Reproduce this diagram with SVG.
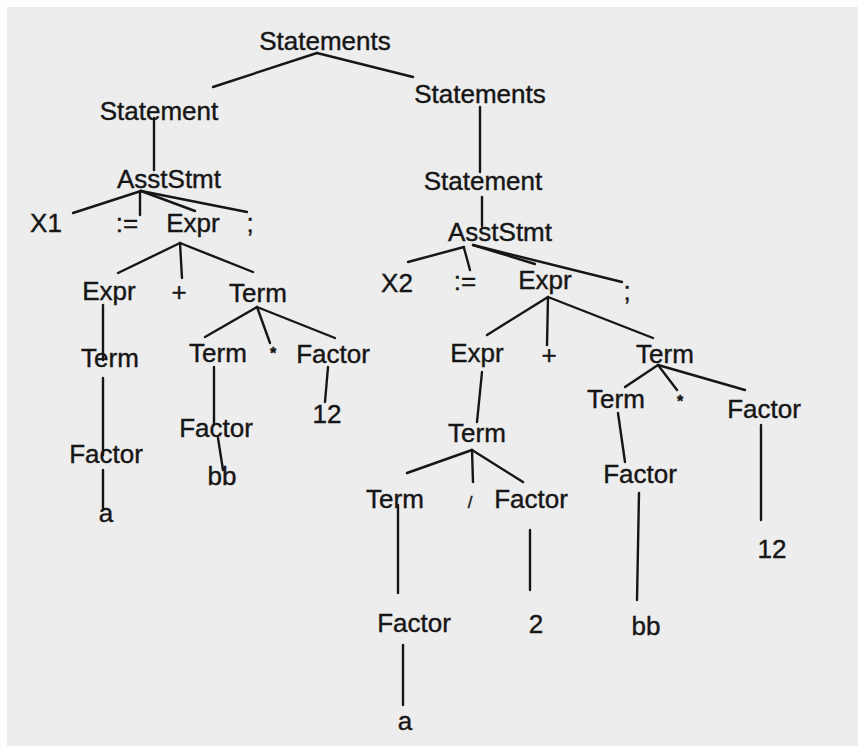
<svg xmlns="http://www.w3.org/2000/svg" width="858" height="746" viewBox="0 0 858 746">
<style>
  text { font-family: "Liberation Sans", Arial, Helvetica, sans-serif; font-size: 26px; fill: #161616; stroke: #161616; stroke-width: 0.4; text-anchor: middle; }
  text.sm { font-size: 16px; font-weight: bold; }
  text.sl { font-size: 17px; }
  #connectors line { stroke: #161616; stroke-width: 2.4; stroke-linecap: round; }
</style>
<rect x="0" y="0" width="858" height="746" fill="#ffffff"/>
<rect x="7" y="7" width="851" height="739" fill="#ededed"/>
<g id="connectors">
  <line x1="317" y1="53" x2="213" y2="87"/>
  <line x1="317" y1="53" x2="413" y2="77"/>
  <line x1="154" y1="118" x2="154" y2="170"/>
  <line x1="480" y1="107" x2="480" y2="172"/>
  <line x1="482" y1="197" x2="482" y2="226"/>
  <line x1="141" y1="191" x2="73" y2="213"/>
  <line x1="140" y1="191" x2="140" y2="215"/>
  <line x1="141" y1="191" x2="195" y2="211"/>
  <line x1="141" y1="191" x2="247" y2="212"/>
  <line x1="464" y1="247" x2="408" y2="262"/>
  <line x1="464" y1="248" x2="470" y2="270"/>
  <line x1="473" y1="245" x2="535" y2="264"/>
  <line x1="473" y1="245" x2="622" y2="282"/>
  <line x1="180" y1="243" x2="118" y2="273"/>
  <line x1="180" y1="243" x2="182" y2="278"/>
  <line x1="180" y1="243" x2="253" y2="272"/>
  <line x1="103" y1="305" x2="103" y2="360"/>
  <line x1="257" y1="307" x2="205" y2="337"/>
  <line x1="257" y1="307" x2="270" y2="343"/>
  <line x1="257" y1="307" x2="335" y2="338"/>
  <line x1="103" y1="378" x2="103" y2="455"/>
  <line x1="103" y1="470" x2="103" y2="508"/>
  <line x1="214" y1="367" x2="214" y2="425"/>
  <line x1="218" y1="438" x2="223" y2="470"/>
  <line x1="328" y1="367" x2="325" y2="402"/>
  <line x1="548" y1="297" x2="487" y2="335"/>
  <line x1="548" y1="297" x2="547" y2="345"/>
  <line x1="548" y1="297" x2="653" y2="338"/>
  <line x1="482" y1="372" x2="477" y2="422"/>
  <line x1="658" y1="365" x2="625" y2="387"/>
  <line x1="658" y1="365" x2="677" y2="390"/>
  <line x1="658" y1="365" x2="745" y2="390"/>
  <line x1="618" y1="413" x2="625" y2="462"/>
  <line x1="639" y1="493" x2="637" y2="600"/>
  <line x1="761" y1="425" x2="761" y2="520"/>
  <line x1="472" y1="450" x2="407" y2="473"/>
  <line x1="472" y1="450" x2="473" y2="482"/>
  <line x1="472" y1="450" x2="523" y2="482"/>
  <line x1="398" y1="505" x2="398" y2="593"/>
  <line x1="403" y1="645" x2="403" y2="705"/>
  <line x1="530" y1="530" x2="530" y2="590"/>
</g>
<g id="n-statements-root"><text x="325" y="50">Statements</text></g>
<g id="n-statement-1"><text x="159" y="120">Statement</text></g>
<g id="n-statements-2"><text x="480" y="103">Statements</text></g>
<g id="n-asststmt-1"><text x="169" y="188">AsstStmt</text></g>
<g id="n-statement-2"><text x="483" y="190">Statement</text></g>
<g id="n-x1"><text x="46" y="232">X1</text></g>
<g id="n-assign-1"><text x="127" y="232">:=</text></g>
<g id="n-expr-1"><text x="193" y="232">Expr</text></g>
<g id="n-semi-1"><text x="250" y="232">;</text></g>
<g id="n-asststmt-2"><text x="500" y="241">AsstStmt</text></g>
<g id="n-x2"><text x="397" y="292">X2</text></g>
<g id="n-assign-2"><text x="465" y="290">:=</text></g>
<g id="n-expr-2"><text x="545" y="289">Expr</text></g>
<g id="n-semi-2"><text x="627" y="300">;</text></g>
<g id="n-expr-3"><text x="109" y="300">Expr</text></g>
<g id="n-plus-1"><text x="179" y="301">+</text></g>
<g id="n-term-1"><text x="258" y="302">Term</text></g>
<g id="n-term-2"><text x="110" y="367">Term</text></g>
<g id="n-term-3"><text x="218" y="362">Term</text></g>
<g id="n-mul-1"><text class="sm" x="273" y="359">*</text></g>
<g id="n-factor-1"><text x="333" y="363">Factor</text></g>
<g id="n-factor-2"><text x="106" y="463">Factor</text></g>
<g id="n-a-1"><text x="106" y="522">a</text></g>
<g id="n-factor-3"><text x="216" y="437">Factor</text></g>
<g id="n-bb-1"><text x="222" y="485">bb</text></g>
<g id="n-12-1"><text x="327" y="423">12</text></g>
<g id="n-expr-4"><text x="477" y="362">Expr</text></g>
<g id="n-plus-2"><text x="549" y="364">+</text></g>
<g id="n-term-4"><text x="665" y="363">Term</text></g>
<g id="n-term-5"><text x="477" y="442">Term</text></g>
<g id="n-term-6"><text x="616" y="408">Term</text></g>
<g id="n-mul-2"><text class="sm" x="680" y="407">*</text></g>
<g id="n-factor-4"><text x="764" y="418">Factor</text></g>
<g id="n-term-7"><text x="395" y="508">Term</text></g>
<g id="n-div"><text class="sl" x="470" y="508">/</text></g>
<g id="n-factor-5"><text x="531" y="508">Factor</text></g>
<g id="n-factor-6"><text x="640" y="483">Factor</text></g>
<g id="n-12-2"><text x="772" y="558">12</text></g>
<g id="n-factor-7"><text x="414" y="632">Factor</text></g>
<g id="n-2"><text x="536" y="633">2</text></g>
<g id="n-bb-2"><text x="646" y="635">bb</text></g>
<g id="n-a-2"><text x="405" y="730">a</text></g>
</svg>
